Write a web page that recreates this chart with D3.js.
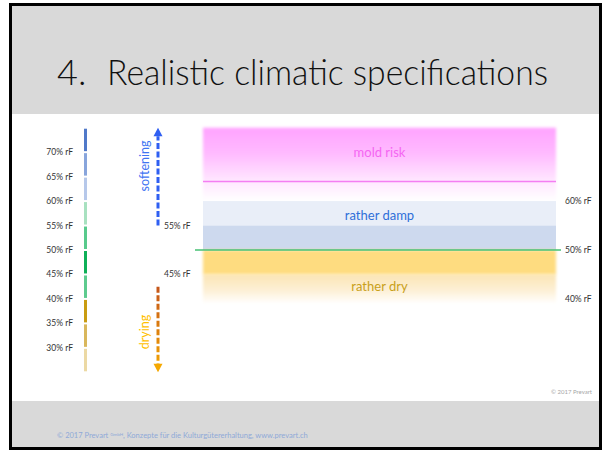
<!DOCTYPE html>
<html>
<head>
<meta charset="utf-8">
<script src="https://cdn.jsdelivr.net/npm/d3@7"></script>
<style>
  body { margin: 0; background: #fff; }
  text { font-family: Lato, "Open Sans", sans-serif; }
</style>
</head>
<body>
<svg id="chart" width="605" height="451"></svg>
<script>
// relative humidity bands (% rF), top to bottom
const barBounds = [75, 70, 65, 60, 55, 50, 45, 40, 35, 30, 25];
const barColors = ["#5079c9", "#88a5dc", "#b6c8ea", "#a8e1c0", "#58ca8c", "#0eb058", "#5dcb8e", "#c99c12", "#d9b75c", "#ecd9a4"];
const leftTicks = [70, 65, 60, 55, 50, 45, 40, 35, 30];
const midTicks = [55, 45];
const rightTicks = [60, 50, 40];

const zoneNames = ["mold risk", "rather damp", "rather dry"];
const zoneRanges = [[75, 60], [60, 50], [50, 40]];
const moldLimit = 64;
const targetRH = 50;

const arrowNames = ["softening", "drying"];
const arrowRanges = [[55, 75], [42.5, 25]];

const svg = d3.select("#chart");
const y = d3.scaleLinear().domain([25, 75]).range([372.3, 127.7]);
const x = d3.scaleLinear().domain([0, 1]).range([203, 556]);

const defs = svg.append("defs");
defs.append("filter").attr("id", "soft").attr("x", "-5%").attr("y", "-10%").attr("width", "110%").attr("height", "120%")
  .append("feGaussianBlur").attr("stdDeviation", 1.6);

const moldGrad = defs.append("linearGradient").attr("id", "moldGrad").attr("x1", 0).attr("y1", 0).attr("x2", 0).attr("y2", 1);
moldGrad.append("stop").attr("offset", "0%").attr("stop-color", "#ffa3ff");
moldGrad.append("stop").attr("offset", "35%").attr("stop-color", "#ffbaff");
moldGrad.append("stop").attr("offset", "72%").attr("stop-color", "#ffe6ff");
moldGrad.append("stop").attr("offset", "100%").attr("stop-color", "#ffffff");

const dryGrad = defs.append("linearGradient").attr("id", "dryGrad").attr("x1", 0).attr("y1", 0).attr("x2", 0).attr("y2", 1);
dryGrad.append("stop").attr("offset", "0%").attr("stop-color", "#fbe4b4");
dryGrad.append("stop").attr("offset", "55%").attr("stop-color", "#fdf0d6");
dryGrad.append("stop").attr("offset", "100%").attr("stop-color", "#ffffff");

const dryArrowGrad = defs.append("linearGradient").attr("id", "dryArrow")
  .attr("gradientUnits", "userSpaceOnUse").attr("x1", 0).attr("x2", 0)
  .attr("y1", y(arrowRanges[1][0])).attr("y2", y(arrowRanges[1][1]));
dryArrowGrad.append("stop").attr("offset", "0%").attr("stop-color", "#c4551a");
dryArrowGrad.append("stop").attr("offset", "100%").attr("stop-color", "#f5a800");

// slide frame
svg.append("rect").attr("x", 10.5).attr("y", 4.5).attr("width", 590).attr("height", 444)
  .attr("fill", "#fff").attr("stroke", "#000").attr("stroke-width", 3);
svg.append("rect").attr("x", 12).attr("y", 6).attr("width", 587).attr("height", 108).attr("fill", "#d9d9d9");
svg.append("rect").attr("x", 12).attr("y", 401).attr("width", 587).attr("height", 46).attr("fill", "#d9d9d9");

svg.append("text").attr("x", 57).attr("y", 85).attr("font-size", 36).attr("font-weight", 300)
  .attr("fill", "#111").text("4.");
svg.append("text").attr("x", 107).attr("y", 85).attr("font-size", 36).attr("font-weight", 300)
  .attr("fill", "#111").attr("textLength", 441).attr("lengthAdjust", "spacingAndGlyphs")
  .text("Realistic climatic specifications");

// left humidity bar
const segs = d3.pairs(barBounds);
svg.append("g").selectAll("rect").data(segs).join("rect")
  .attr("x", 84).attr("width", 3)
  .attr("y", d => y(d[0]) + 1).attr("height", d => y(d[1]) - y(d[0]) - 2)
  .attr("fill", (d, i) => barColors[i]);

const tickText = (g, data, xPos, anchor) => g.selectAll("text").data(data).join("text")
  .attr("x", xPos).attr("y", d => y(d)).attr("dy", "0.35em")
  .attr("text-anchor", anchor).attr("font-size", 8.5).attr("fill", "#333")
  .text(d => d + "% rF");

tickText(svg.append("g"), leftTicks, 73, "end");
tickText(svg.append("g"), midTicks, 164, "start");
tickText(svg.append("g"), rightTicks, 565, "start");

// zones
const zoneG = svg.append("g");
zoneG.append("rect").attr("x", x(0)).attr("width", x(1) - x(0))
  .attr("y", y(zoneRanges[0][0])).attr("height", y(zoneRanges[0][1]) - y(zoneRanges[0][0]))
  .attr("fill", "url(#moldGrad)").attr("filter", "url(#soft)");
zoneG.append("rect").attr("x", x(0)).attr("width", x(1) - x(0))
  .attr("y", y(zoneRanges[1][0])).attr("height", y(55) - y(zoneRanges[1][0]))
  .attr("fill", "#e9eef8");
zoneG.append("rect").attr("x", x(0)).attr("width", x(1) - x(0))
  .attr("y", y(55)).attr("height", y(zoneRanges[1][1]) - y(55))
  .attr("fill", "#cdd9ee");
zoneG.append("rect").attr("x", x(0)).attr("width", x(1) - x(0))
  .attr("y", y(45)).attr("height", y(zoneRanges[2][1] - 1) - y(45))
  .attr("fill", "url(#dryGrad)").attr("filter", "url(#soft)");
zoneG.append("rect").attr("x", x(0)).attr("width", x(1) - x(0))
  .attr("y", y(zoneRanges[2][0])).attr("height", y(45) - y(zoneRanges[2][0]))
  .attr("fill", "#fedc80").attr("filter", "url(#soft)");

svg.append("line").attr("x1", x(0)).attr("x2", x(1)).attr("y1", y(moldLimit)).attr("y2", y(moldLimit))
  .attr("stroke", "#f47ef2").attr("stroke-width", 1.5);
svg.append("line").attr("x1", 195).attr("x2", 561).attr("y1", y(targetRH)).attr("y2", y(targetRH))
  .attr("stroke", "#46c173").attr("stroke-width", 1.5);

const zoneColors = ["#f566f2", "#2f6fd8", "#c9a01a"];
const zoneLabelY = [70, 57, 42.5];
svg.append("g").selectAll("text").data(zoneNames).join("text")
  .attr("x", (x(0) + x(1)) / 2).attr("y", (d, i) => y(zoneLabelY[i])).attr("dy", "0.35em")
  .attr("text-anchor", "middle").attr("font-size", 13).attr("fill", (d, i) => zoneColors[i])
  .text(d => d);

// arrows
const ax = 158;
function arrow(range, stroke, fill) {
  const dir = range[1] > range[0] ? -1 : 1;
  const tip = y(range[1]);
  const base = tip - dir * 8.5;
  svg.append("line").attr("x1", ax).attr("x2", ax).attr("y1", y(range[0])).attr("y2", base)
    .attr("stroke", stroke).attr("stroke-width", 3).attr("stroke-dasharray", "6,2.5");
  svg.append("path").attr("d", `M${ax - 4.5},${base}L${ax + 4.5},${base}L${ax},${tip}Z`).attr("fill", fill);
}
arrow(arrowRanges[0], "#2f5ff2", "#2f5ff2");
arrow(arrowRanges[1], "url(#dryArrow)", "#f5a800");

const arrowTextColors = ["#3f74f2", "#ffc000"];
const arrowTextY = [166, 332];
svg.append("g").selectAll("text").data(arrowNames).join("text")
  .attr("transform", (d, i) => `translate(145,${arrowTextY[i]}) rotate(-90)`)
  .attr("dy", "0.35em").attr("text-anchor", "middle").attr("font-size", 12.5)
  .attr("fill", (d, i) => arrowTextColors[i]).text(d => d);

// copyright notes
svg.append("text").attr("x", 592).attr("y", 394).attr("text-anchor", "end")
  .attr("font-size", 6).attr("fill", "#a6a6a6").text("© 2017 Prevart");
const foot = svg.append("text").attr("x", 57).attr("y", 438).attr("font-size", 7.5).attr("fill", "#8fa9d8");
foot.append("tspan").text("© 2017 Prevart ");
foot.append("tspan").attr("font-size", 4.5).attr("dy", -2.5).text("GmbH");
foot.append("tspan").attr("dy", 2.5).text(", Konzepte für die Kulturgütererhaltung, www.prevart.ch");
</script>
</body>
</html>
